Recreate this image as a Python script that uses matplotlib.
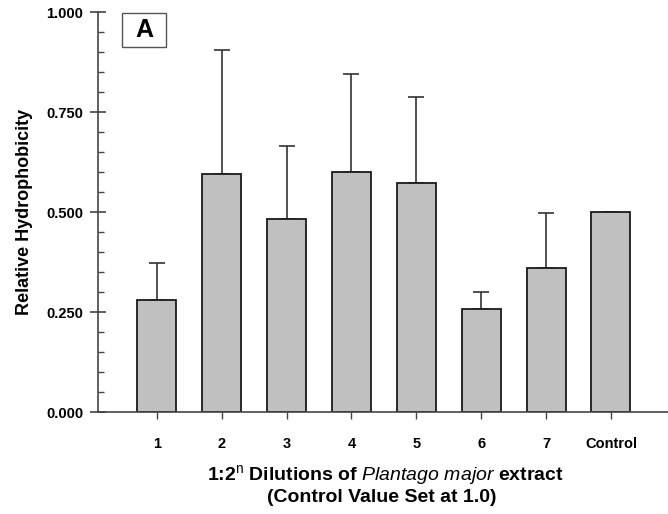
import numpy as np
import matplotlib
matplotlib.use("Agg")
import matplotlib.pyplot as plt
from matplotlib.ticker import MultipleLocator
from matplotlib.patches import Rectangle

plt.rcParams['font.family'] = ['Liberation Sans', 'DejaVu Sans']
plt.rcParams['mathtext.fontset'] = 'custom'
plt.rcParams['mathtext.rm'] = 'Liberation Sans'
plt.rcParams['mathtext.bf'] = 'Liberation Sans:bold'
plt.rcParams['mathtext.it'] = 'Liberation Sans:italic'

# data
categories = ["1", "2", "3", "4", "5", "6", "7", "Control"]
values = [0.279, 0.595, 0.483, 0.601, 0.573, 0.258, 0.361, 0.500]
err_upper = [0.094, 0.310, 0.183, 0.244, 0.215, 0.042, 0.136, 0.0]

fig = plt.figure(figsize=(6.68, 5.14), dpi=100)
ax = fig.add_axes([98 / 668, 102 / 514, 570 / 668, 400 / 514])

x = np.arange(1, len(categories) + 1)
ax.bar(x, values, width=0.6, color="#c0c0c0", edgecolor="#1a1a1a", linewidth=1.3, zorder=2)
ax.errorbar(x, values, yerr=[np.zeros(len(x)), err_upper], fmt="none",
            ecolor="#333333", elinewidth=1.2, capsize=6, capthick=1.2, zorder=1)

ax.set_xlim(0.092, 8.88)
ax.set_ylim(0, 1.0)
ax.set_xticks(x)
ax.set_xticklabels(categories, fontsize=10.5, fontweight="bold")
ax.set_yticks([0, 0.25, 0.5, 0.75, 1.0])
ax.set_yticklabels(["0.000", "0.250", "0.500", "0.750", "1.000"], fontsize=10.5, fontweight="bold")
ax.yaxis.set_minor_locator(MultipleLocator(0.05))

for s in ["top", "right"]:
    ax.spines[s].set_visible(False)
for s in ["left", "bottom"]:
    ax.spines[s].set_color("#444444")
    ax.spines[s].set_linewidth(1.2)

ax.tick_params(axis="y", which="major", direction="inout", length=11, width=1.2, color="#444444", pad=5)
ax.tick_params(axis="y", which="minor", direction="in", length=4, width=1.0, color="#444444")
ax.tick_params(axis="x", which="major", direction="out", length=5, width=1.0, color="#444444", pad=13)

ax.set_ylabel("Relative Hydrophobicity", fontsize=13, fontweight="bold")
ax.yaxis.set_label_coords(-(98 - 33) / 570, 0.5)

fig.text(385 / 668, 1 - 475 / 514,
         r"1:2$^{\mathrm{n}}$ Dilutions of $\mathit{Plantago\ major}$ extract",
         fontsize=14, fontweight="bold", ha="center", va="center")
fig.text(382 / 668, 1 - 497 / 514, "(Control Value Set at 1.0)",
         fontsize=14, fontweight="bold", ha="center", va="center")

fig.patches.append(Rectangle((122 / 668, 1 - 47 / 514), 44 / 668, 34 / 514, transform=fig.transFigure,
                             facecolor="white", edgecolor="#555555", linewidth=1.0, zorder=5))
fig.text(144 / 668, 1 - 30 / 514, "A", fontsize=18, fontweight="bold", ha="center", va="center", zorder=6)

fig.savefig("out.png", dpi=100)
